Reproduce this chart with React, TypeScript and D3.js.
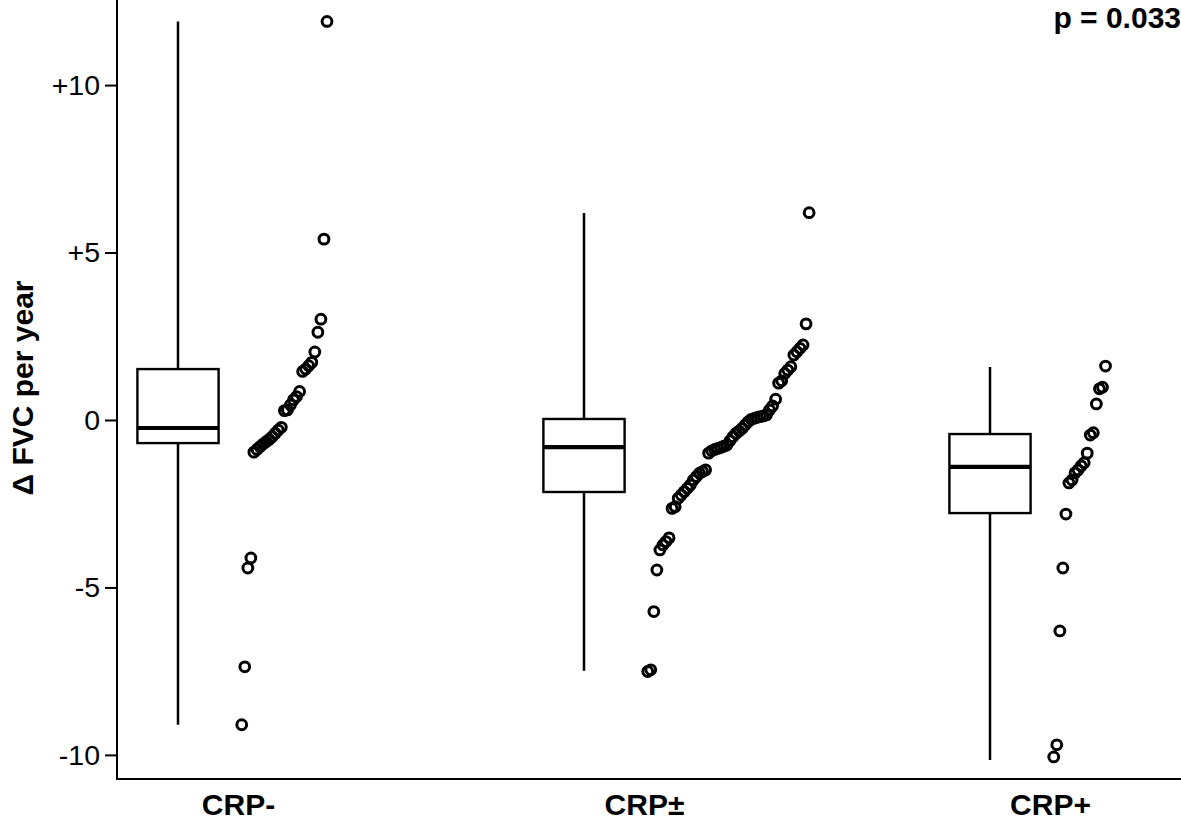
import * as d3 from 'd3';
import React, { useRef, useEffect } from 'react';

// groups and box summaries
const categories = ['CRP-', 'CRP\u00b1', 'CRP+'];
const whiskerLow = [-9.1, -7.49, -10.15];
const whiskerHigh = [11.9, 6.18, 1.58];
const q1 = [-0.69, -2.15, -2.78];
const medians = [-0.24, -0.81, -1.4];
const q3 = [1.52, 0.03, -0.42];

// individual patients, sorted (Δ FVC per year)
const crpNeg = [
  -9.1, -7.37, -4.42, -4.12, -0.96, -0.88, -0.8, -0.72, -0.65, -0.58, -0.5, -0.4, -0.3, -0.22,
  0.28, 0.3, 0.45, 0.6, 0.7, 0.85, 1.45, 1.52, 1.62, 1.72, 2.03, 2.62, 3.01, 5.4, 11.9,
];
const crpMid = [
  -7.51, -7.46, -5.72, -4.48, -3.88, -3.73, -3.63, -3.52, -2.64, -2.59, -2.34, -2.24, -2.14,
  -2.04, -1.94, -1.79, -1.69, -1.59, -1.54, -1.49, -0.99, -0.92, -0.88, -0.85, -0.82, -0.78,
  -0.75, -0.62, -0.5, -0.4, -0.33, -0.25, -0.15, -0.05, 0.02, 0.05, 0.08, 0.1, 0.12, 0.15, 0.3,
  0.42, 0.62, 1.1, 1.17, 1.39, 1.49, 1.59, 1.94, 2.04, 2.14, 2.24, 2.87, 6.19,
];
const crpPos = [
  -10.06, -9.7, -6.3, -4.42, -2.81, -1.88, -1.79, -1.58, -1.49, -1.37, -1.28, -0.99, -0.45,
  -0.38, 0.48, 0.93, 0.98, 1.61,
];
const points = [crpNeg, crpMid, crpPos];

const yTicks = [10, 5, 0, -5, -10];
const yTickLabels = ['+10', '+5', '0', '-5', '-10'];
const pLabel = 'p = 0.033';

const W = 1181;
const H = 822;
const FONT = '"Liberation Sans", Arial, Helvetica, sans-serif';

const BoxPlot = () => {
  const ref = useRef(null);

  useEffect(() => {
    draw();
  }, []);

  const draw = () => {
    const svg = d3.select(ref.current);
    svg.selectAll('*').remove();

    const axisX = 117;
    const axisY = 779;

    // group position (index) -> px
    const xScale = d3.scaleLinear().domain([0, 1]).range([178, 584]);
    const yScale = d3.scaleLinear().domain([-10.69, 12.54]).range([778, 0]);

    const boxHalf = 0.1;
    const dotStart = 0.157;
    const dotStep = 0.0075;

    const g = svg.append('g');

    // y axis
    const yAxis = d3.axisLeft(yScale)
      .tickValues(yTicks)
      .tickSize(12)
      .tickPadding(5)
      .tickFormat((d, i) => yTickLabels[i]);
    const ya = g.append('g')
      .attr('transform', `translate(${axisX},0)`)
      .call(yAxis);
    ya.select('.domain').remove();
    ya.selectAll('line').attr('stroke', '#000').attr('stroke-width', 2);
    ya.selectAll('text')
      .attr('font-family', FONT)
      .attr('font-size', 28.5)
      .attr('fill', '#000');

    g.append('line')
      .attr('x1', axisX).attr('x2', axisX)
      .attr('y1', 0).attr('y2', axisY + 1)
      .attr('stroke', '#000').attr('stroke-width', 2);
    g.append('line')
      .attr('x1', axisX - 1).attr('x2', W)
      .attr('y1', axisY).attr('y2', axisY)
      .attr('stroke', '#000').attr('stroke-width', 2);

    // boxes
    categories.forEach((c, i) => {
      const cx = xScale(i);
      g.append('line')
        .attr('x1', cx).attr('x2', cx)
        .attr('y1', yScale(whiskerHigh[i])).attr('y2', yScale(whiskerLow[i]))
        .attr('stroke', '#000').attr('stroke-width', 2.5);
      g.append('rect')
        .attr('x', xScale(i - boxHalf))
        .attr('width', xScale(i + boxHalf) - xScale(i - boxHalf))
        .attr('y', yScale(q3[i]))
        .attr('height', yScale(q1[i]) - yScale(q3[i]))
        .attr('fill', '#fff')
        .attr('stroke', '#000').attr('stroke-width', 2.4);
      g.append('line')
        .attr('x1', xScale(i - boxHalf)).attr('x2', xScale(i + boxHalf))
        .attr('y1', yScale(medians[i])).attr('y2', yScale(medians[i]))
        .attr('stroke', '#000').attr('stroke-width', 4.2);

      g.append('g')
        .selectAll('circle')
        .data(points[i])
        .enter().append('circle')
        .attr('cx', (d, k) => xScale(i + dotStart + k * dotStep))
        .attr('cy', d => yScale(d))
        .attr('r', 4.9)
        .attr('fill', 'none')
        .attr('stroke', '#000')
        .attr('stroke-width', 3);

      g.append('text')
        .attr('x', xScale(i + 0.149))
        .attr('y', 815)
        .attr('text-anchor', 'middle')
        .attr('font-family', FONT)
        .attr('font-weight', 'bold')
        .attr('font-size', 30)
        .text(c);
    });

    // y label
    g.append('text')
      .attr('transform', `translate(33, 388) rotate(-90)`)
      .attr('text-anchor', 'middle')
      .attr('font-family', FONT)
      .attr('font-weight', 'bold')
      .attr('font-size', 30)
      .text('\u0394 FVC per year');

    g.append('text')
      .attr('x', W)
      .attr('y', 28)
      .attr('text-anchor', 'end')
      .attr('font-family', FONT)
      .attr('font-weight', 'bold')
      .attr('font-size', 30)
      .text(pLabel);
  };

  return (
    <svg ref={ref} width={W} height={H}
      style={{ position: 'absolute', left: 0, top: 0, background: '#fff' }} />
  );
};

export default function App() {
  return <BoxPlot />;
}
